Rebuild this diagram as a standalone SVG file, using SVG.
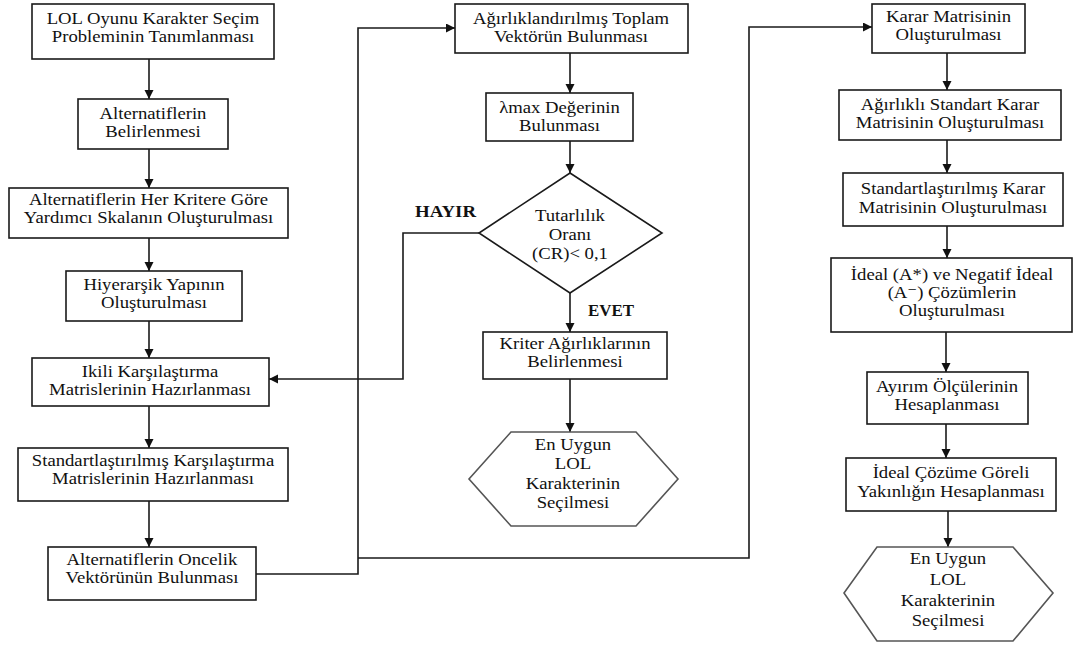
<svg xmlns="http://www.w3.org/2000/svg" width="1075" height="646" viewBox="0 0 1075 646">
<defs>
<marker id="ah" markerUnits="userSpaceOnUse" markerWidth="10" markerHeight="10" refX="9" refY="4.5" orient="auto">
<path d="M0,0 L9,4.5 L0,9 z" fill="#111"/>
</marker>
<style>
.b{fill:#fff;stroke:#1a1a1a;stroke-width:1.6}
.h{fill:#fff;stroke:#555;stroke-width:1.6}
.c{fill:none;stroke:#1a1a1a;stroke-width:1.6}
.a{marker-end:url(#ah)}
.t text{font-size:17px;fill:#111;text-anchor:middle}
.l{font-weight:bold;font-size:16px;fill:#111}
</style>
</defs>
<rect width="1075" height="646" fill="#fff"/>
<g font-family="'Liberation Serif', 'Times New Roman', 'DejaVu Serif', serif">
<g id="connectors">
<line class="c a" x1="149" y1="59" x2="149" y2="99"/>
<line class="c a" x1="149" y1="149" x2="149" y2="188"/>
<line class="c a" x1="149" y1="238" x2="149" y2="271"/>
<line class="c a" x1="149" y1="321" x2="149" y2="358"/>
<line class="c a" x1="149" y1="406" x2="149" y2="448"/>
<line class="c a" x1="149" y1="501" x2="149" y2="547"/>
<polyline class="c a" points="256,574 358,574 358,28 455,28"/>
<polyline class="c a" points="358,558 749,558 749,27 872,27"/>
<line class="c a" x1="570" y1="53" x2="570" y2="93"/>
<line class="c a" x1="570" y1="141" x2="570" y2="173"/>
<line class="c a" x1="570" y1="293" x2="570" y2="332"/>
<line class="c a" x1="570" y1="379" x2="570" y2="432"/>
<polyline class="c a" points="479,233 403,233 403,379 269,379"/>
<line class="c a" x1="947" y1="53" x2="947" y2="90"/>
<line class="c a" x1="947" y1="140" x2="947" y2="173"/>
<line class="c a" x1="947" y1="226" x2="947" y2="258"/>
<line class="c a" x1="946" y1="332" x2="946" y2="372"/>
<line class="c a" x1="946" y1="424" x2="946" y2="458"/>
<line class="c a" x1="948" y1="511" x2="948" y2="547"/>
<text class="l" x="415" y="217" textLength="61" lengthAdjust="spacingAndGlyphs">HAYIR</text>
<text class="l" x="588" y="316" textLength="46" lengthAdjust="spacingAndGlyphs">EVET</text>
</g>
<g id="n1" class="t"><rect class="b" x="32" y="4" width="242" height="55"/><g transform="matrix(1.1,0,0,1,-15.3,0)"><text x="153" y="24">LOL Oyunu Karakter Seçim</text><text x="153" y="42">Probleminin Tanımlanması</text></g></g>
<g id="n2" class="t"><rect class="b" x="78" y="99" width="150" height="50"/><g transform="matrix(1.1,0,0,1,-15.3,0)"><text x="153" y="119">Alternatiflerin</text><text x="153" y="137">Belirlenmesi</text></g></g>
<g id="n3" class="t"><rect class="b" x="9" y="188" width="279" height="50"/><g transform="matrix(1.1,0,0,1,-14.85,0)"><text x="148.5" y="205">Alternatiflerin Her Kritere Göre</text><text x="148.5" y="223">Yardımcı Skalanın Oluşturulması</text></g></g>
<g id="n4" class="t"><rect class="b" x="66" y="271" width="176" height="50"/><g transform="matrix(1.1,0,0,1,-15.4,0)"><text x="154" y="290">Hiyerarşik Yapının</text><text x="154" y="308">Oluşturulması</text></g></g>
<g id="n5" class="t"><rect class="b" x="32" y="358" width="237" height="48"/><g transform="matrix(1.1,0,0,1,-15,0)"><text x="150" y="377">Ikili Karşılaştırma</text><text x="150" y="395">Matrislerinin Hazırlanması</text></g></g>
<g id="n6" class="t"><rect class="b" x="18" y="448" width="270" height="53"/><g transform="matrix(1.1,0,0,1,-15.3,0)"><text x="153" y="466">Standartlaştırılmış Karşılaştırma</text><text x="153" y="484">Matrislerinin Hazırlanması</text></g></g>
<g id="n7" class="t"><rect class="b" x="48" y="547" width="208" height="53"/><g transform="matrix(1.1,0,0,1,-15.2,0)"><text x="152" y="565">Alternatiflerin Oncelik</text><text x="152" y="583">Vektörünün Bulunması</text></g></g>
<g id="n8" class="t"><rect class="b" x="455" y="4" width="233" height="49"/><g transform="matrix(1.1,0,0,1,-57.1,0)"><text x="571" y="24">Ağırlıklandırılmış Toplam</text><text x="571" y="42">Vektörün Bulunması</text></g></g>
<g id="n9" class="t"><rect class="b" x="486" y="93" width="147" height="48"/><g transform="matrix(1.1,0,0,1,-55.95,0)"><text x="559.5" y="113">λmax Değerinin</text><text x="559.5" y="131">Bulunması</text></g></g>
<g id="n10" class="t"><polygon class="b" points="570,173 662,233 570,293 479,233"/><g transform="matrix(1.1,0,0,1,-57,0)"><text x="570" y="221">Tutarlılık</text><text x="570" y="240">Oranı</text><text x="570" y="259">(CR)&lt; 0,1</text></g></g>
<g id="n11" class="t"><rect class="b" x="483" y="332" width="184" height="47"/><g transform="matrix(1.1,0,0,1,-57.5,0)"><text x="575" y="349">Kriter Ağırlıklarının</text><text x="575" y="367">Belirlenmesi</text></g></g>
<g id="n12" class="t"><polygon class="h" points="511,432 636,432 678,479 636,526 511,526 469,479"/><g transform="matrix(1.1,0,0,1,-57.3,0)"><text x="573" y="450">En Uygun</text><text x="573" y="469">LOL</text><text x="573" y="489">Karakterinin</text><text x="573" y="508">Seçilmesi</text></g></g>
<g id="n13" class="t"><rect class="b" x="872" y="4" width="153" height="49"/><g transform="matrix(1.1,0,0,1,-94.85,0)"><text x="948.5" y="22">Karar Matrisinin</text><text x="948.5" y="40">Oluşturulması</text></g></g>
<g id="n14" class="t"><rect class="b" x="839" y="90" width="222" height="50"/><g transform="matrix(1.1,0,0,1,-95,0)"><text x="950" y="110">Ağırlıklı Standart Karar</text><text x="950" y="128">Matrisinin Oluşturulması</text></g></g>
<g id="n15" class="t"><rect class="b" x="843" y="173" width="220" height="53"/><g transform="matrix(1.1,0,0,1,-95.3,0)"><text x="953" y="194">Standartlaştırılmış Karar</text><text x="953" y="213">Matrisinin Oluşturulması</text></g></g>
<g id="n16" class="t"><rect class="b" x="831" y="258" width="241" height="74"/><g transform="matrix(1.1,0,0,1,-95.2,0)"><text x="952" y="280">İdeal (A*) ve Negatif İdeal</text><text x="952" y="298">(A⁻) Çözümlerin</text><text x="952" y="316">Oluşturulması</text></g></g>
<g id="n17" class="t"><rect class="b" x="867" y="372" width="161" height="52"/><g transform="matrix(1.1,0,0,1,-94.7,0)"><text x="947" y="392">Ayırım Ölçülerinin</text><text x="947" y="410">Hesaplanması</text></g></g>
<g id="n18" class="t"><rect class="b" x="846" y="458" width="210" height="53"/><g transform="matrix(1.1,0,0,1,-95.1,0)"><text x="951" y="478">İdeal Çözüme Göreli</text><text x="951" y="497">Yakınlığın Hesaplanması</text></g></g>
<g id="n19" class="t"><polygon class="h" points="877,547 1013,547 1053,593 1013,641 877,641 844,593"/><g transform="matrix(1.1,0,0,1,-94.8,0)"><text x="948" y="564">En Uygun</text><text x="948" y="585">LOL</text><text x="948" y="606">Karakterinin</text><text x="948" y="626">Seçilmesi</text></g></g>
</g>
</svg>
